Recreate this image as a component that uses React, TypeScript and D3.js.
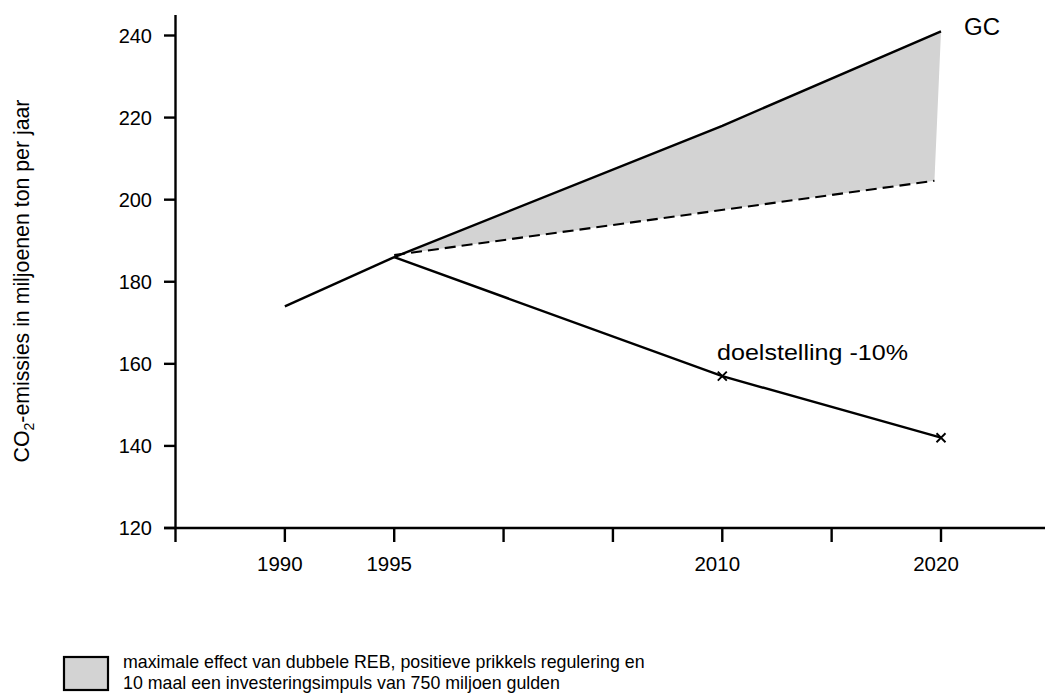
import React from "react";
import * as d3 from "d3";

const W = 1045;
const H = 696;

const baseYears = [1990, 1995];
const baseValues = [174, 186];

const gcYears = [1995, 2010, 2020];
const gcValues = [186, 218, 241];

const dashedYears = [1995, 2019.7];
const dashedValues = [186.5, 204.6];

const targetYears = [1995, 2010, 2020];
const targetValues = [186, 157, 142];
const markerYears = [2010, 2020];
const markerValues = [157, 142];

const xTicks = [1985, 1990, 1995, 2000, 2005, 2010, 2015, 2020];
const xLabelled = [1990, 1995, 2010, 2020];
const yTicks = [120, 140, 160, 180, 200, 220, 240];

const yLabel = "CO";
const legendLines = [
  "maximale effect van dubbele REB, positieve prikkels regulering en",
  "10 maal een investeringsimpuls van 750 miljoen gulden",
];

const FONT = "'Liberation Sans', Arial, Helvetica, sans-serif";

export default function App() {
  const x = d3.scaleLinear().domain([1985, 2020]).range([175.5, 941]);
  const y = d3.scaleLinear().domain([120, 240]).range([528, 35.5]);

  const line = d3
    .line<[number, number]>()
    .x((d) => x(d[0]))
    .y((d) => y(d[1]));

  const base = baseYears.map((t, i) => [t, baseValues[i]] as [number, number]);
  const gc = gcYears.map((t, i) => [t, gcValues[i]] as [number, number]);
  const dashed = dashedYears.map((t, i) => [t, dashedValues[i]] as [number, number]);
  const target = targetYears.map((t, i) => [t, targetValues[i]] as [number, number]);

  const areaPts: [number, number][] = [...gc, ...dashed.slice().reverse()];
  const areaPath = line(areaPts) + "Z";

  const yAxisX = x(1985);
  const xAxisY = y(120);
  const SW = 2.4;

  return (
    <svg
      width={W}
      height={H}
      style={{ position: "absolute", left: 0, top: 0, background: "#fff" }}
      fontFamily={FONT}
    >
      <rect x={0} y={0} width={W} height={H} fill="#fff" />
      {/* shaded area */}
      <path d={areaPath} fill="#d3d3d3" stroke="none" />

      {/* axes */}
      <line x1={yAxisX} x2={yAxisX} y1={15} y2={xAxisY} stroke="#000" strokeWidth={SW} />
      <line x1={164} x2={W} y1={xAxisY} y2={xAxisY} stroke="#000" strokeWidth={SW} />
      {yTicks.map((v) => (
        <g key={v}>
          <line x1={164} x2={yAxisX} y1={y(v)} y2={y(v)} stroke="#000" strokeWidth={SW} />
          <text x={152} y={y(v)} dy="0.36em" textAnchor="end" fontSize={20}>
            {v}
          </text>
        </g>
      ))}
      {xTicks.map((t) => (
        <line key={t} x1={x(t)} x2={x(t)} y1={xAxisY} y2={542} stroke="#000" strokeWidth={SW} />
      ))}
      {xLabelled.map((t) => (
        <text key={t} x={x(t) - 5} y={571} textAnchor="middle" fontSize={20.5}>
          {t}
        </text>
      ))}

      {/* lines */}
      <path d={line(base) || ""} fill="none" stroke="#000" strokeWidth={SW} />
      <path d={line(gc) || ""} fill="none" stroke="#000" strokeWidth={SW} />
      <path d={line(dashed) || ""} fill="none" stroke="#000" strokeWidth={2.1} strokeDasharray="11,6" />
      <path d={line(target) || ""} fill="none" stroke="#000" strokeWidth={SW} />
      {markerYears.map((t, i) => {
        const cx = x(t);
        const cy = y(markerValues[i]);
        const s = 4.5;
        return (
          <path
            key={t}
            d={`M${cx - s},${cy - s}L${cx + s},${cy + s}M${cx - s},${cy + s}L${cx + s},${cy - s}`}
            stroke="#000"
            strokeWidth={1.9}
          />
        );
      })}

      {/* annotations */}
      <text x={964} y={35} fontSize={23} textLength={36} lengthAdjust="spacingAndGlyphs">GC</text>
      <text x={717} y={360} fontSize={22} textLength={191} lengthAdjust="spacingAndGlyphs">
        doelstelling -10%
      </text>

      {/* y label */}
      <text
        transform={`translate(29,${281}) rotate(-90)`}
        textAnchor="middle"
        fontSize={21.3}
      >
        {yLabel}
        <tspan fontSize={14} dy={5}>2</tspan>
        <tspan dy={-5}>-emissies in miljoenen ton per jaar</tspan>
      </text>

      {/* legend */}
      <rect x={64} y={657} width={44} height={33} fill="#d3d3d3" stroke="#000" strokeWidth={2.2} />
      {legendLines.map((l, i) => (
        <text key={i} x={123} y={668 + i * 21} fontSize={17.8}>
          {l}
        </text>
      ))}
    </svg>
  );
}
